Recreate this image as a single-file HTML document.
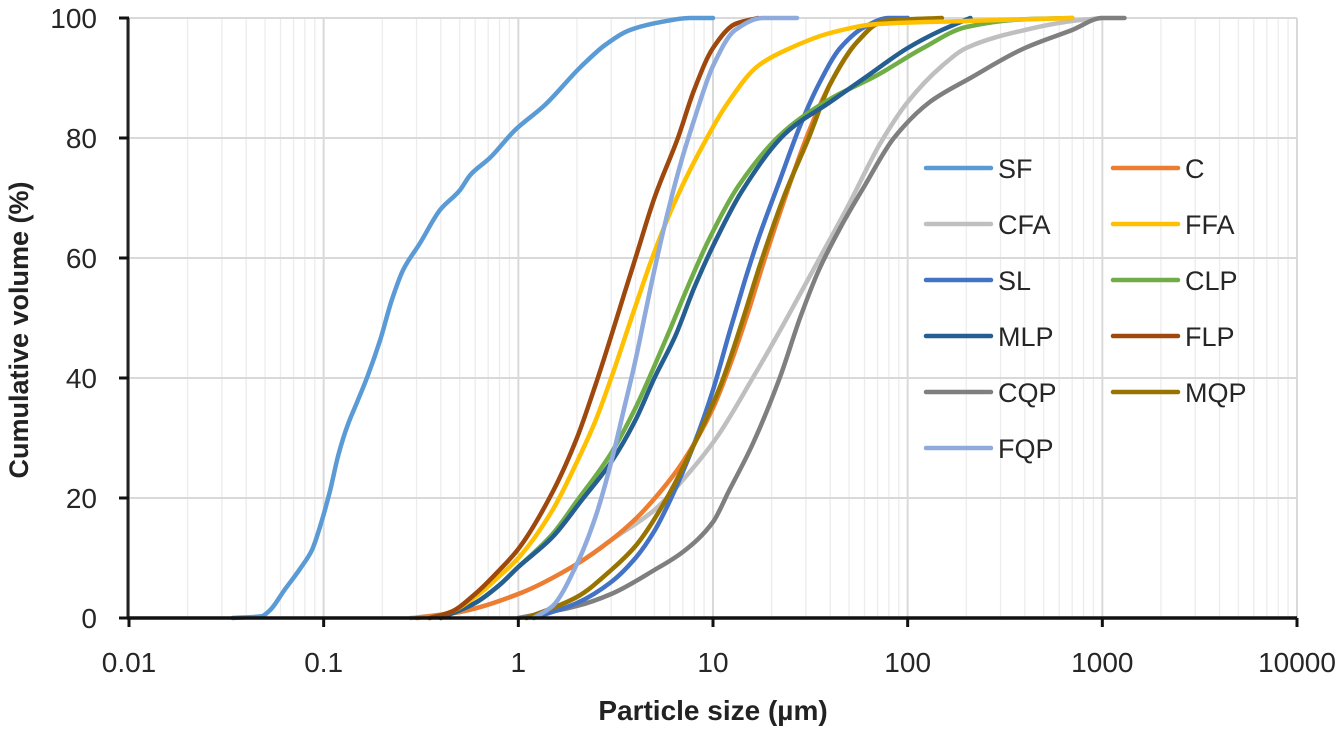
<!DOCTYPE html>
<html><head><meta charset="utf-8"><style>
html,body{margin:0;padding:0;background:#fff;}
svg{display:block;font-family:"Liberation Sans",sans-serif;}
</style></head><body>
<svg id="chart" width="1339" height="733" viewBox="0 0 1339 733">
<g id="grid"></g>
<g id="series"></g>
<g id="axes"></g>
<g id="legend"></g>
<text x="713" y="720" text-anchor="middle" font-size="28" font-weight="bold" fill="#222">Particle size (µm)</text>
<text transform="translate(28,330) rotate(-90)" text-anchor="middle" font-size="27" font-weight="bold" fill="#222">Cumulative volume (%)</text>
</svg>
<script>
const xTicks = [0.01, 0.1, 1, 10, 100, 1000, 10000];
const xTickLabels = ["0.01", "0.1", "1", "10", "100", "1000", "10000"];
const yTicks = [0, 20, 40, 60, 80, 100];
const seriesNames = ["SF","C","CFA","FFA","SL","CLP","MLP","FLP","CQP","MQP","FQP"];
const seriesColors = ["#5B9BD5","#ED7D31","#BFBFBF","#FFC000","#4472C4","#70AD47","#255E91","#9E480E","#7F7F7F","#997300","#8FAADC"];
const sizeSF = [0.034,0.048,0.053,0.063,0.076,0.087,0.098,0.108,0.119,0.133,0.15,0.169,0.195,0.224,0.256,0.313,0.396,0.501,0.565,0.715,0.96,1.37,2.07,2.79,3.75,5.35,7.6,10];
const volSF = [0,0.3,1.3,4.7,8.3,11.3,16.3,21.3,27.2,32.2,36.3,40.5,46.3,53,58,62.5,68,71.3,73.8,76.7,81.3,85.5,91.7,95.5,98,99.3,100,100];
const sizeC = [0.3,0.5,1,2,3,4,5.35,7,10,12.5,15.5,18.5,24,31,40,55,70,100];
const volC = [0,1,4,9,13,16.5,21,26,35,43,52,60,71,81,89,96,99,100];
const sizeCFA = [0.28,0.5,1,2,3,5,7,10.4,16,24,34,50,72,100,150,200,400,700,1000];
const volCFA = [0,1,4,9,13,18,23,30,40,50,59,69,79,86,92,95,98,99.5,100];
const sizeFFA = [0.35,0.45,0.6,0.8,1,1.5,2,2.5,3,4,5,6.5,9.3,12,17,25,40,70,200,700];
const volFFA = [0,1,3.5,7,10,18,26,33,40,52,61,70,80,86,92,95,97.5,99,99.5,100];
const sizeSL = [1.2,2,3,4,5,6.1,8,10,12,14.5,17,21.5,28,35,45,60,80,100];
const volSL = [0,2.5,6,10,14.5,20,29,38,47,56,63,72,82,89,95,98.5,100,100];
const sizeCLP = [0.4,0.6,0.8,1,1.5,2,3,4,5,6,7.6,9.5,13.5,23,40,70,120,200,400,700];
const volCLP = [0,2.5,5.5,8.5,14,19.5,27.5,35,42,48,56,63,72,81,86.5,90.5,95,98.5,99.8,100];
const sizeMLP = [0.4,0.6,0.8,1,1.5,2.1,3,4,5,6.4,8,10,14,24,40,60,100,150,210];
const volMLP = [0,2.5,5.5,8.5,13.5,19.5,26,33,40,47,55,62,71,81,86,90,95,98,100];
const sizeFLP = [0.35,0.45,0.6,0.8,1,1.5,2,2.5,3,3.5,4,5,6.6,8,10,13,17];
const volFLP = [0,1,4,8,11.5,21,30,39,47,54,60,70,80,88,95,99,100];
const sizeCQP = [1,2,3,5,7,10,12,16,22,28,35,45,60,85,130,210,400,700,1000,1300];
const volCQP = [0,2,4,8,11,16,21,29,40,50,58,65,72,80,86,90,95,98,100,100];
const sizeMQP = [1.1,2,3,4,5.8,8.3,11,14,17.5,23,31,40,55,75,150];
const volMQP = [0,3.5,8,12,20,30,39,49,59,70,80,89,96,99.5,100];
const sizeFQP = [1.2,1.5,2,2.5,3,3.5,4,4.5,5,6,7,8,10,13,18,27];
const volFQP = [0,2,9,17,26,35,43,51,58,69,77,83,92,98,100,100];
const sizes = [sizeSF,sizeC,sizeCFA,sizeFFA,sizeSL,sizeCLP,sizeMLP,sizeFLP,sizeCQP,sizeMQP,sizeFQP];
const vols = [volSF,volC,volCFA,volFFA,volSL,volCLP,volMLP,volFLP,volCQP,volMQP,volFQP];
const drawOrder = [2,8,1,4,9,5,6,3,7,10,0];

const NS = "http://www.w3.org/2000/svg";
const X0 = 129, X1 = 1297, Y0 = 618, Y1 = 18;
function xs(v){ return X0 + (Math.log10(v) + 2) / 6 * (X1 - X0); }
function ys(v){ return Y0 - v / 100 * (Y0 - Y1); }
function mk(tag, attrs, parent){ const e = document.createElementNS(NS, tag); for (const k in attrs) e.setAttribute(k, attrs[k]); parent.appendChild(e); return e; }

const grid = document.getElementById('grid');
for (let d = 0; d < 6; d++) {
  for (let m = 2; m <= 9; m++) {
    const x = xs(xTicks[d] * m);
    const l = mk('line', {x1:x, x2:x, y1:Y1, y2:Y0, stroke:'#ececec', 'stroke-width':1.3}, grid);
    
    
  }
}
xTicks.forEach(t => {
  const x = xs(t);
  const l = mk('line', {x1:x, x2:x, y1:Y1, y2:Y0, stroke:'#d9d9d9', 'stroke-width':2}, grid);
  
  
});
yTicks.forEach(t => {
  const y = ys(t);
  const l = mk('line', {x1:X0, x2:X1, y1:y, y2:y, stroke:'#d9d9d9', 'stroke-width':2}, grid);
  
  
});

function monoPath(px, py){
  const n = px.length;
  if (n < 2) return '';
  const dx = [], m = [], t = [];
  for (let i = 0; i < n-1; i++){ dx.push(px[i+1]-px[i]); m.push((py[i+1]-py[i])/(px[i+1]-px[i] || 1e-6)); }
  t[0] = m[0]; t[n-1] = m[n-2];
  for (let i = 1; i < n-1; i++){
    if (m[i-1]*m[i] <= 0) t[i] = 0;
    else { const w1 = 2*dx[i]+dx[i-1], w2 = dx[i]+2*dx[i-1]; t[i] = (w1+w2)/(w1/m[i-1]+w2/m[i]); }
  }
  let d = 'M' + px[0].toFixed(1) + ',' + py[0].toFixed(1);
  for (let i = 0; i < n-1; i++){
    const h = dx[i]/3;
    d += ' C' + (px[i]+h).toFixed(1) + ',' + (py[i]+t[i]*h).toFixed(1) + ' ' + (px[i+1]-h).toFixed(1) + ',' + (py[i+1]-t[i+1]*h).toFixed(1) + ' ' + px[i+1].toFixed(1) + ',' + py[i+1].toFixed(1);
  }
  return d;
}
const sg = document.getElementById('series');
drawOrder.forEach(i => {
  const px = sizes[i].map(xs), py = vols[i].map(ys);
  const p = mk('path', {d: monoPath(px, py), fill:'none', stroke: seriesColors[i], 'stroke-width':4.5, 'stroke-linejoin':'round', 'stroke-linecap':'round'}, sg);
  
  
});

const ax = document.getElementById('axes');
const yl = mk('line', {x1:X0-1, x2:X0-1, y1:Y1, y2:Y0, stroke:'#222', 'stroke-width':3}, ax);


const base = mk('line', {x1:X0-2, x2:X1, y1:Y0, y2:Y0, stroke:'#111', 'stroke-width':3.5}, ax);


xTicks.forEach((t, i) => {
  const x = xs(t);
  const tk = mk('line', {x1:x, x2:x, y1:Y0, y2:Y0+9, stroke:'#111', 'stroke-width':3}, ax);
  
  
  const tx = mk('text', {x:x, y:672, 'text-anchor':'middle', 'font-size':28, fill:'#262626'}, ax);
  tx.textContent = xTickLabels[i];
  
  
});
yTicks.forEach(t => {
  const tk = mk('line', {x1:X0-10, x2:X0, y1:ys(t), y2:ys(t), stroke:'#111', 'stroke-width':3}, ax);
  
  
  const tx = mk('text', {x:97, y:ys(t)+10, 'text-anchor':'end', 'font-size':28, fill:'#262626'}, ax);
  tx.textContent = String(t);
  
  
});

const lg = document.getElementById('legend');
seriesNames.forEach((name, i) => {
  const col = i % 2, row = Math.floor(i / 2);
  const lx = col === 0 ? 926 : 1113, ly = 168 + row * 56;
  const g = mk('g', {}, lg);
  
  
  mk('line', {x1:lx, x2:lx+65, y1:ly, y2:ly, stroke:seriesColors[i], 'stroke-width':4.5, 'stroke-linecap':'round'}, g);
  const tx = mk('text', {x:lx+72, y:ly+10, 'font-size':27, fill:'#262626'}, g);
  tx.textContent = name;
});
</script>
</body></html>
